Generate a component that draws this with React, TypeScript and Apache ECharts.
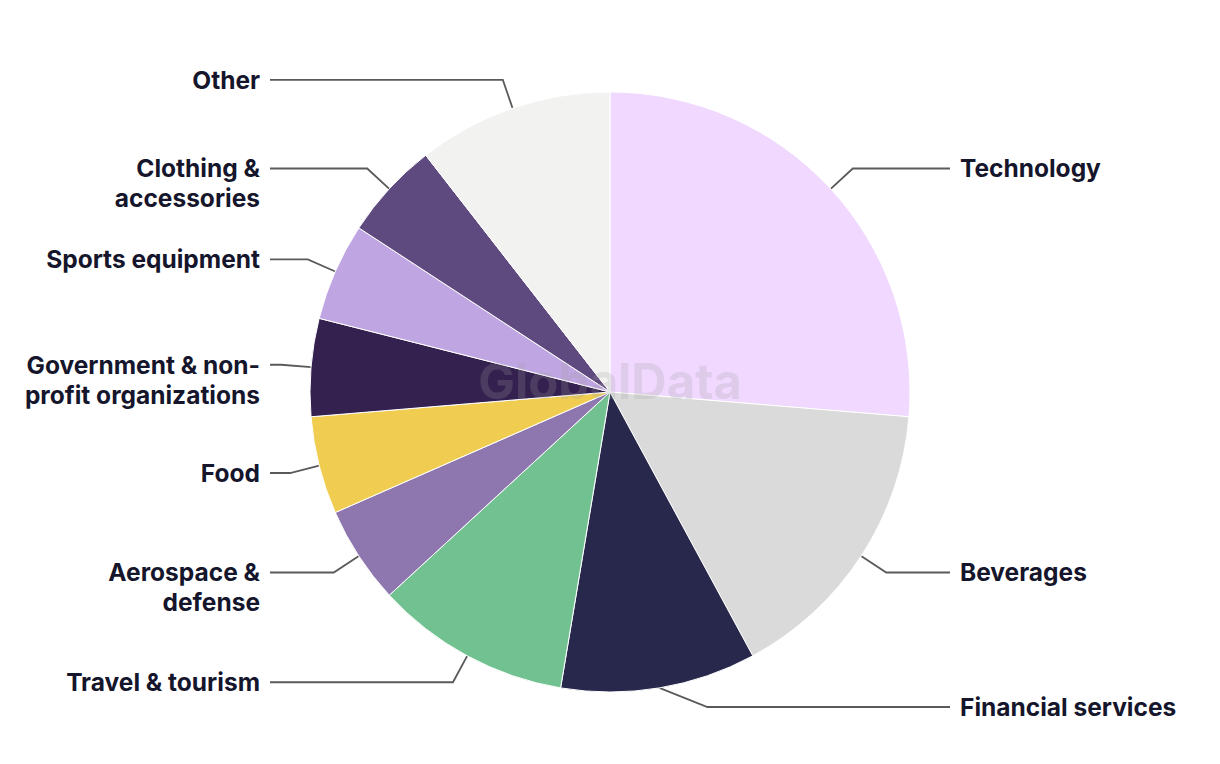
import React, { useEffect, useRef } from "react";
import * as echarts from "echarts";

const CATEGORIES = [
  "Technology",
  "Beverages",
  "Financial services",
  "Travel & tourism",
  "Aerospace & defense",
  "Food",
  "Government & non-profit organizations",
  "Sports equipment",
  "Clothing & accessories",
  "Other",
];
const LABEL_TEXT = [
  "Technology",
  "Beverages",
  "Financial services",
  "Travel & tourism",
  "Aerospace &\ndefense",
  "Food",
  "Government & non-\nprofit organizations",
  "Sports equipment",
  "Clothing &\naccessories",
  "Other",
];
const VALUES = [5, 3, 2, 2, 1, 1, 1, 1, 1, 2];
const COLORS = [
  "#F0D8FF",
  "#DADADA",
  "#27284B",
  "#72C291",
  "#8E77AF",
  "#F0CD50",
  "#352150",
  "#BFA5E1",
  "#5E4A7F",
  "#F2F2F1",
];

export default function App() {
  const ref = useRef<HTMLDivElement>(null);
  useEffect(() => {
    if (!ref.current) return;
    const chart = echarts.init(ref.current, undefined, { renderer: "svg" });
    const W = 1220;
    const CX = 610;
    const MAX_LABEL_Y = 707;
    chart.setOption({
      animation: false,
      backgroundColor: "#ffffff",
      graphic: [
        {
          type: "text",
          left: "center",
          top: 357,
          z: 100,
          silent: true,
          style: {
            text: "GlobalData",
            font: "bold 49px Inter",
            fill: "rgba(160,160,160,0.22)",
          },
        },
      ],
      series: [
        {
          type: "pie",
          center: [CX, 392],
          radius: 300,
          startAngle: 90,
          clockwise: true,
          avoidLabelOverlap: false,
          itemStyle: { borderColor: "#ffffff", borderWidth: 1 },
          label: {
            show: true,
            position: "outside",
            formatter: (p: any) => LABEL_TEXT[p.dataIndex],
            fontFamily: "Inter",
            fontWeight: 700,
            fontSize: 24.5,
            lineHeight: 30,
            color: "#15152C",
          },
          labelLine: {
            show: true,
            length: 30,
            length2: 20,
            lineStyle: { color: "#5a5a5a", width: 1.8 },
          },
          labelLayout: (params: any) => {
            const pts = params.labelLinePoints;
            if (!pts) return {};
            const start = pts[0];
            let elbow = pts[1];
            if (elbow[1] > MAX_LABEL_Y) {
              elbow = [start[0] + 48, MAX_LABEL_Y];
            }
            const left = elbow[0] < W / 2;
            const endX = left ? 270 : 950;
            const textX = left ? 260 : 960;
            return {
              x: textX,
              y: elbow[1] - 15,
              align: left ? "right" : "left",
              verticalAlign: "top",
              labelLinePoints: [start, elbow, [endX, elbow[1]]],
            };
          },
          data: CATEGORIES.map((name, i) => ({
            name,
            value: VALUES[i],
            itemStyle: { color: COLORS[i] },
          })),
        },
      ],
    });
    return () => chart.dispose();
  }, []);
  return (
    <div
      ref={ref}
      style={{ position: "fixed", left: 0, top: 0, width: 1220, height: 764 }}
    />
  );
}
